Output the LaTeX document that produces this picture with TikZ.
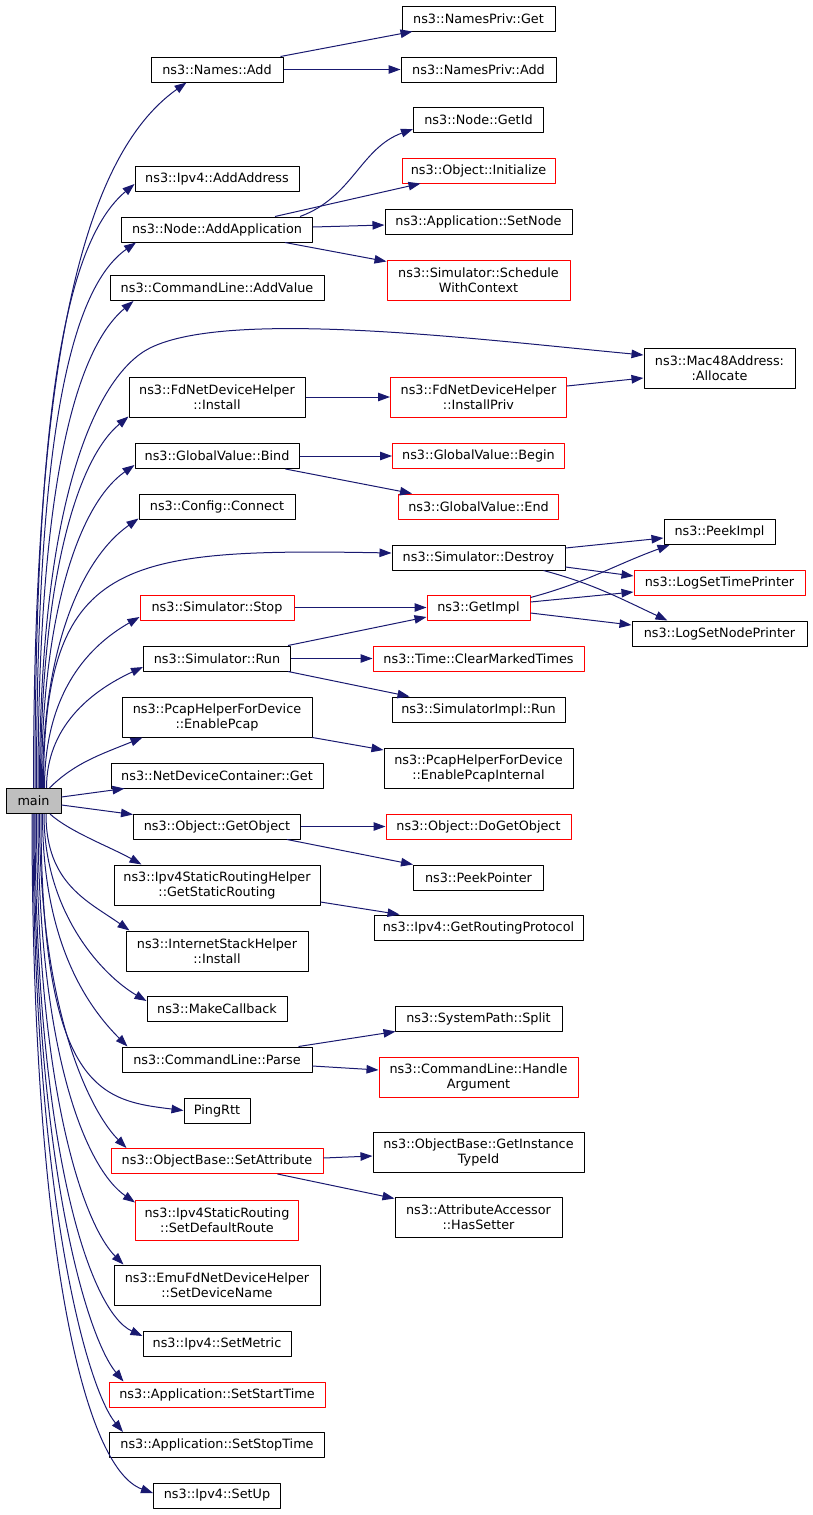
\documentclass[tikz,border=0pt]{standalone}
\usepackage{fontspec}
\setmainfont{DejaVu Sans}
\usetikzlibrary{arrows.meta}
\definecolor{edgeblue}{HTML}{191970}
\definecolor{maingray}{HTML}{BFBFBF}
\begin{document}
\begin{tikzpicture}[x=1pt,y=1pt,>={Triangle[length=12pt,width=8.5pt]},line join=round,
	fn/.style={draw=black,line width=1pt,inner sep=0pt,minimum height=25pt,align=center,font=\fontsize{12.8}{15}\selectfont},
	fn2/.style={fn,minimum height=40pt},
	hot/.style={draw=red},
	call/.style={->,edgeblue,line width=1pt}]
	\def\cA{217} \def\cB{478.5} \def\cC{719.5} % cột
	\useasboundingbox (0,0) rectangle (813,-1515);
	\node[fn,fill=maingray,minimum width=55pt] (main) at (33.5,-801) {main};
	% cột 1
	\node[fn,minimum width=132pt] (namesadd) at (\cA,-69.5) {ns3::Names::Add};
	\node[fn,minimum width=164pt] (addaddress) at (\cA,-178.5) {ns3::Ipv4::AddAddress};
	\node[fn,minimum width=191pt] (addapp) at (\cA,-229.5) {ns3::Node::AddApplication};
	\node[fn,minimum width=214pt] (addvalue) at (\cA,-288) {ns3::CommandLine::AddValue};
	\node[fn2,minimum width=176pt] (fdinstall) at (\cA,-397) {ns3::FdNetDeviceHelper\\::Install};
	\node[fn,minimum width=164pt] (bind) at (\cA,-456) {ns3::GlobalValue::Bind};
	\node[fn,minimum width=156pt] (connect) at (\cA,-506.5) {ns3::Config::Connect};
	\node[fn,hot,minimum width=154pt] (stop) at (\cA,-607.5) {ns3::Simulator::Stop};
	\node[fn,minimum width=147pt] (simrun) at (\cA,-658.5) {ns3::Simulator::Run};
	\node[fn2,minimum width=190pt] (enablepcap) at (\cA,-717) {ns3::PcapHelperForDevice\\::EnablePcap};
	\node[fn,minimum width=212pt] (ndcget) at (\cA,-775.5) {ns3::NetDeviceContainer::Get};
	\node[fn,minimum width=167pt] (getobject) at (\cA,-826.5) {ns3::Object::GetObject};
	\node[fn2,minimum width=206pt] (getstatic) at (\cA,-885) {ns3::Ipv4StaticRoutingHelper\\::GetStaticRouting};
	\node[fn2,minimum width=182pt] (inetinstall) at (\cA,-951) {ns3::InternetStackHelper\\::Install};
	\node[fn,minimum width=140pt] (makecallback) at (\cA,-1009) {ns3::MakeCallback};
	\node[fn,minimum width=190pt] (parse) at (\cA,-1059.5) {ns3::CommandLine::Parse};
	\node[fn,minimum width=66pt] (pingrtt) at (\cA,-1110.5) {PingRtt};
	\node[fn,hot,minimum width=212pt] (setattr) at (\cA,-1161) {ns3::ObjectBase::SetAttribute};
	\node[fn2,hot,minimum width=163pt] (defroute) at (\cA,-1220) {ns3::Ipv4StaticRouting\\::SetDefaultRoute};
	\node[fn2,minimum width=206pt] (devname) at (\cA,-1285) {ns3::EmuFdNetDeviceHelper\\::SetDeviceName};
	\node[fn,minimum width=148pt] (setmetric) at (\cA,-1344) {ns3::Ipv4::SetMetric};
	\node[fn,hot,minimum width=216pt] (starttime) at (\cA,-1394.5) {ns3::Application::SetStartTime};
	\node[fn,minimum width=215pt] (stoptime) at (\cA,-1445) {ns3::Application::SetStopTime};
	\node[fn,minimum width=127pt] (setup) at (\cA,-1495.5) {ns3::Ipv4::SetUp};
	% cột 2
	\node[fn,minimum width=153pt] (namesprivget) at (\cB,-18.5) {ns3::NamesPriv::Get};
	\node[fn,minimum width=155pt] (namesprivadd) at (\cB,-69.5) {ns3::NamesPriv::Add};
	\node[fn,minimum width=130pt] (getid) at (\cB,-120) {ns3::Node::GetId};
	\node[fn,hot,minimum width=153pt] (initialize) at (\cB,-170.5) {ns3::Object::Initialize};
	\node[fn,minimum width=187pt] (setnode) at (\cB,-221.5) {ns3::Application::SetNode};
	\node[fn2,hot,minimum width=183pt] (schedule) at (\cB,-280) {ns3::Simulator::Schedule\\WithContext};
	\node[fn2,hot,minimum width=176pt] (installpriv) at (\cB,-397) {ns3::FdNetDeviceHelper\\::InstallPriv};
	\node[fn,hot,minimum width=172pt] (gvbegin) at (\cB,-456) {ns3::GlobalValue::Begin};
	\node[fn,hot,minimum width=160pt] (gvend) at (\cB,-506.5) {ns3::GlobalValue::End};
	\node[fn,minimum width=173pt] (destroy) at (\cB,-557.5) {ns3::Simulator::Destroy};
	\node[fn,hot,minimum width=103pt] (getimpl) at (\cB,-607.5) {ns3::GetImpl};
	\node[fn,hot,minimum width=211pt] (clearmarked) at (\cB,-658.5) {ns3::Time::ClearMarkedTimes};
	\node[fn,minimum width=173pt] (implrun) at (\cB,-709.5) {ns3::SimulatorImpl::Run};
	\node[fn2,minimum width=189pt] (pcapinternal) at (\cB,-768) {ns3::PcapHelperForDevice\\::EnablePcapInternal};
	\node[fn,hot,minimum width=185pt] (dogetobject) at (\cB,-826.5) {ns3::Object::DoGetObject};
	\node[fn,minimum width=130pt] (peekpointer) at (\cB,-877.5) {ns3::PeekPointer};
	\node[fn,minimum width=209pt] (routingproto) at (\cB,-927.5) {ns3::Ipv4::GetRoutingProtocol};
	\node[fn,minimum width=167pt] (split) at (\cB,-1018.5) {ns3::SystemPath::Split};
	\node[fn2,hot,minimum width=199pt] (handlearg) at (\cB,-1077) {ns3::CommandLine::Handle\\Argument};
	\node[fn2,minimum width=211pt] (typeid) at (\cB,-1152) {ns3::ObjectBase::GetInstance\\TypeId};
	\node[fn2,minimum width=167pt] (hassetter) at (\cB,-1217) {ns3::AttributeAccessor\\::HasSetter};
	% cột 3
	\node[fn2,minimum width=151pt] (mac48) at (\cC,-368) {ns3::Mac48Address:\\:Allocate};
	\node[fn,minimum width=111pt] (peekimpl) at (\cC,-532) {ns3::PeekImpl};
	\node[fn,hot,minimum width=171pt] (logtime) at (\cC,-582.5) {ns3::LogSetTimePrinter};
	\node[fn,minimum width=175pt] (lognode) at (\cC,-633.5) {ns3::LogSetNodePrinter};
	% main -> cột 1, phía trên
	\draw[call] (main.north) .. controls +(0,420) and +(-106,-75) .. ([xshift=36pt]namesadd.south west);
	\draw[call] ([xshift=1.5pt]main.north) .. controls +(0,380) and +(-69,-58) .. ([yshift=-5.5pt]addaddress.west);
	\draw[call] ([xshift=3pt]main.north) .. controls +(0,330) and +(-70,-49) .. ([xshift=15pt]addapp.south west);
	\draw[call] ([xshift=4.5pt]main.north) .. controls +(0,290) and +(-61,-51) .. ([xshift=24pt]addvalue.south west);
	\draw[call] ([xshift=6pt]main.north) .. controls +(0,300) and +(-50,-25) .. (150,-348)
		.. controls +(80,40) and +(-160,15) .. ([yshift=13pt]mac48.west);
	\draw[call] ([xshift=7pt]main.north) .. controls +(0,200) and +(-54,-45) .. ([yshift=1pt]fdinstall.south west);
	\draw[call] ([xshift=8pt]main.north) .. controls +(0,170) and +(-57,-40) .. ([yshift=-9pt]bind.west);
	\draw[call] ([xshift=9pt]main.north) .. controls +(0,140) and +(-57,-40) .. ([yshift=1pt]connect.south west);
	\draw[call] ([xshift=10pt]main.north) .. controls +(0,228) and +(-272,5) .. ([yshift=4.5pt]destroy.west);
	\draw[call] ([xshift=11pt]main.north) .. controls +(0,90) and +(-56,-32) .. ([yshift=-9.5pt]stop.west);
	\draw[call] ([xshift=13pt]main.north) .. controls +(0,60) and +(-54,-25) .. ([yshift=-8.5pt]simrun.west);
	\draw[call] ([xshift=16pt]main.north) .. controls +(25,25) and +(-42,-17) .. ([xshift=21pt]enablepcap.south west);
	\draw[call] ([yshift=4pt]main.east) -- ([xshift=14pt]ndcget.south west);
	\draw[call] ([yshift=-4pt]main.east) -- ([yshift=-1pt]getobject.north west);
	% main -> cột 1, phía dưới
	\draw[call] ([xshift=16.5pt]main.south) .. controls +(20,-18) and +(-30,17) .. ([xshift=28pt]getstatic.north west);
	\draw[call] ([xshift=12.5pt]main.south) .. controls +(0,-70) and +(-41,29) .. ([xshift=4pt]inetinstall.north west);
	\draw[call] ([xshift=10.5pt]main.south) .. controls +(0,-100) and +(-43,25) .. ([yshift=8pt]makecallback.west);
	\draw[call] ([xshift=9pt]main.south) .. controls +(0,-130) and +(-39,39) .. ([xshift=6pt]parse.north west);
	\draw[call] ([xshift=7.5pt]main.south) .. controls +(0,-280) and +(-80,10) .. (pingrtt.west);
	\draw[call] ([xshift=6pt]main.south) .. controls +(0,-200) and +(-35,35) .. ([xshift=16pt]setattr.north west);
	\draw[call] ([xshift=4.5pt]main.south) .. controls +(0,-240) and +(-49,34) .. ([yshift=-3pt]defroute.north west);
	\draw[call] ([xshift=3pt]main.south) .. controls +(0,-280) and +(-39,39) .. ([xshift=10pt]devname.north west);
	\draw[call] ([xshift=1.5pt]main.south) .. controls +(0,-330) and +(-54,25) .. ([yshift=-5pt]setmetric.north west);
	\draw[call] ([xshift=0.5pt]main.south) .. controls +(0,-360) and +(-35,42) .. ([xshift=15pt]starttime.north west);
	\draw[call] ([xshift=-0.5pt]main.south) .. controls +(0,-390) and +(-35,42) .. ([xshift=14pt]stoptime.north west);
	\draw[call] ([xshift=-1.5pt]main.south) .. controls +(0,-430) and +(-70,25) .. ([yshift=2.5pt]setup.west);
	% cột 1 -> cột 2 -> cột 3
	\draw[call] ([xshift=-3pt]namesadd.north east) -- ([xshift=11pt]namesprivget.south west);
	\draw[call] (namesadd.east) -- (namesprivadd.west);
	\draw[call] ([xshift=-13pt]addapp.north east) to[out=20,in=200] ([yshift=-9pt]getid.west);
	\draw[call] ([xshift=-38pt]addapp.north east) -- ([xshift=19pt]initialize.south west);
	\draw[call] ([yshift=2.5pt]addapp.east) -- ([yshift=-3.5pt]setnode.west);
	\draw[call] ([xshift=-28pt]addapp.south east) -- ([yshift=-2pt]schedule.north west);
	\draw[call] (fdinstall.east) -- (installpriv.west);
	\draw[call] ([yshift=11pt]installpriv.east) -- ([yshift=-10pt]mac48.west);
	\draw[call] (bind.east) -- (gvbegin.west);
	\draw[call] ([xshift=-14pt]bind.south east) -- ([xshift=14pt]gvend.north west);
	\draw[call] ([yshift=9.5pt]destroy.east) -- ([yshift=-6pt]peekimpl.west);
	\draw[call] ([yshift=-9.5pt]destroy.east) -- ([yshift=6.5pt]logtime.west);
	\draw[call] ([xshift=-22pt]destroy.south east) to[out=-15,in=155] ([xshift=36pt]lognode.north west);
	\draw[call] (stop.east) -- (getimpl.west);
	\draw[call] ([xshift=-3pt]simrun.north east) -- ([yshift=-9.5pt]getimpl.west);
	\draw[call] ([yshift=10pt]getimpl.east) to[out=15,in=200] ([xshift=6pt]peekimpl.south west);
	\draw[call] ([yshift=5.5pt]getimpl.east) -- ([yshift=-9.5pt]logtime.west);
	\draw[call] ([yshift=-5.5pt]getimpl.east) -- ([yshift=8.5pt]lognode.west);
	\draw[call] (simrun.east) -- (clearmarked.west);
	\draw[call] ([xshift=-3pt]simrun.south east) -- ([xshift=18pt]implrun.north west);
	\draw[call] (enablepcap.south east) -- ([yshift=18pt]pcapinternal.west);
	\draw[call] (getobject.east) -- (dogetobject.west);
	\draw[call] ([xshift=-14pt]getobject.south east) -- (peekpointer.north west);
	\draw[call] ([yshift=-17pt]getstatic.east) -- ([xshift=26pt]routingproto.north west);
	\draw[call] ([xshift=-14pt]parse.north east) -- ([xshift=1pt]split.south west);
	\draw[call] ([yshift=-6.5pt]parse.east) -- ([yshift=7pt]handlearg.west);
	\draw[call] ([yshift=3pt]setattr.east) -- ([yshift=-4pt]typeid.west);
	\draw[call] ([xshift=-46pt]setattr.south east) -- ([yshift=-2pt]hassetter.north west);
\end{tikzpicture}
\end{document}
